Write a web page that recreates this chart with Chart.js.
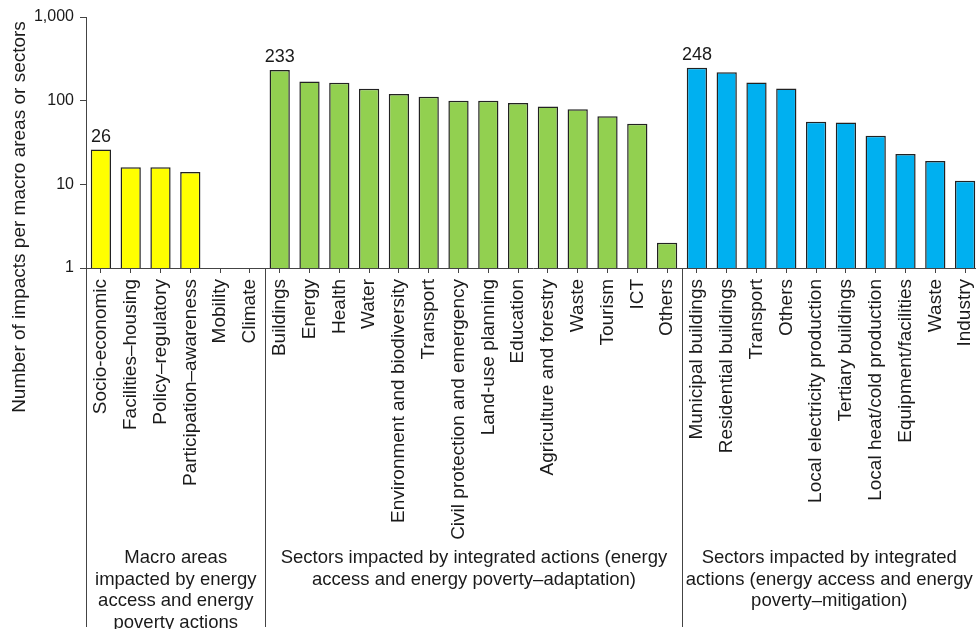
<!DOCTYPE html>
<html lang="en">
<head>
  <meta charset="UTF-8">
  <title>Impacts per macro areas or sectors</title>
  <style>
    html, body { margin: 0; padding: 0; background: #fff; overflow: hidden; }
    .wrap { width: 980px; height: 629px; }
  </style>
</head>
<body>
  <div class="wrap">
    <canvas id="grafico" width="980" height="629"></canvas>
  </div>

  <script src="https://cdn.jsdelivr.net/npm/chart.js"></script>
  <script>
    // categories, left to right
    const categorias = [
      'Socio-economic', 'Facilities–housing', 'Policy–regulatory', 'Participation–awareness', 'Mobility', 'Climate',
      'Buildings', 'Energy', 'Health', 'Water', 'Environment and biodiversity', 'Transport',
      'Civil protection and emergency', 'Land-use planning', 'Education', 'Agriculture and forestry',
      'Waste', 'Tourism', 'ICT', 'Others',
      'Municipal buildings', 'Residential buildings', 'Transport', 'Others', 'Local electricity production',
      'Tertiary buildings', 'Local heat/cold production', 'Equipment/facilities', 'Waste', 'Industry'
    ];

    // number of impacts (null = no bar)
    const valores = [
      26, 16, 16, 14, null, null,
      233, 170, 164, 139, 120, 111, 100, 100, 94, 85, 79, 65, 53, 2,
      248, 218, 165, 140, 56, 55, 38, 23, 19, 11
    ];

    // how many categories each group holds, and its colour
    const tamanhoGrupos = [6, 14, 10];
    const coresGrupos = ['#FFFF00', '#92D050', '#00B0F0'];
    const titulosGrupos = [
      ['Macro areas', 'impacted by energy', 'access and energy', 'poverty actions'],
      ['Sectors impacted by integrated actions (energy', 'access and energy poverty–adaptation)'],
      ['Sectors impacted by integrated', 'actions (energy access and energy', 'poverty–mitigation)']
    ];

    // bars that carry a value label on top
    const barrasComRotulo = [0, 6, 20];

    const ticksY = [1, 10, 100, 1000];
    const tituloY = 'Number of impacts per macro areas or sectors';

    const fonte = '"Liberation Sans", Arial, sans-serif';
    const corTexto = '#1a1a1a';
    const corEixo = '#444';

    const cores = [];
    tamanhoGrupos.forEach((n, g) => { for (let i = 0; i < n; i++) cores.push(coresGrupos[g]); });

    const extras = {
      id: 'extras',
      afterDraw(chart) {
        const ctx = chart.ctx;
        const x = chart.scales.x;
        const area = chart.chartArea;
        const fim = 627;
        ctx.save();

        // value labels
        ctx.fillStyle = corTexto;
        ctx.font = '18px ' + fonte;
        ctx.textAlign = 'center';
        ctx.textBaseline = 'bottom';
        const meta = chart.getDatasetMeta(0);
        barrasComRotulo.forEach(i => {
          const bar = meta.data[i];
          ctx.fillText(String(valores[i]), bar.x, bar.y - 4);
        });

        // y axis extension and group separators
        ctx.strokeStyle = corEixo;
        ctx.lineWidth = 1;
        ctx.beginPath();
        ctx.moveTo(area.left + 0.5, area.bottom);
        ctx.lineTo(area.left + 0.5, fim);
        const limites = [area.left];
        let idx = 0;
        tamanhoGrupos.forEach((n, g) => {
          idx += n;
          if (g < tamanhoGrupos.length - 1) {
            const bx = Math.round((x.getPixelForValue(idx - 1) + x.getPixelForValue(idx)) / 2) + 0.5;
            ctx.moveTo(bx, area.bottom);
            ctx.lineTo(bx, fim);
            limites.push(bx);
          }
        });
        limites.push(Math.min(area.right, 976));
        ctx.stroke();

        // group titles
        ctx.textBaseline = 'middle';
        ctx.font = '18.5px ' + fonte;
        titulosGrupos.forEach((linhas, g) => {
          const cx = (limites[g] + limites[g + 1]) / 2;
          linhas.forEach((t, k) => ctx.fillText(t, cx, 558 + k * 21.5));
        });

        // y axis title
        ctx.font = '19px ' + fonte;
        ctx.translate(20, 217);
        ctx.rotate(-Math.PI / 2);
        ctx.fillText(tituloY, 0, 0);
        ctx.restore();
      }
    };

    new Chart(document.getElementById('grafico'), {
      type: 'bar',
      data: {
        labels: categorias,
        datasets: [{
          data: valores,
          backgroundColor: cores,
          borderColor: '#222',
          borderWidth: 1.5,
          barPercentage: 0.68,
          categoryPercentage: 1
        }]
      },
      options: {
        responsive: false,
        animation: false,
        layout: { padding: { top: 17, right: 0, left: 0, bottom: 0 } },
        plugins: { legend: { display: false }, tooltip: { enabled: false } },
        scales: {
          x: {
            grid: { drawOnChartArea: false, drawTicks: true, tickLength: 5, offset: false, color: corEixo },
            border: { display: true, color: corEixo, width: 1 },
            ticks: {
              autoSkip: false, maxRotation: 90, minRotation: 90, padding: 6,
              color: corTexto, font: { size: 19, family: fonte }
            },
            afterFit(scale) {
              scale.height = 361;
              scale.paddingLeft = 0;
              scale.paddingRight = 0;
            }
          },
          y: {
            type: 'logarithmic',
            min: 1,
            max: 1000,
            grid: { drawOnChartArea: false, drawTicks: true, tickLength: 6, color: corEixo },
            border: { display: true, color: corEixo, width: 1 },
            ticks: {
              padding: 6, color: corTexto, font: { size: 16, family: fonte },
              callback: v => v.toLocaleString('en-US')
            },
            afterBuildTicks(scale) { scale.ticks = ticksY.map(v => ({ value: v, major: true })); },
            afterFit(scale) { scale.width = 86; }
          }
        }
      },
      plugins: [extras]
    });
  </script>
</body>
</html>
